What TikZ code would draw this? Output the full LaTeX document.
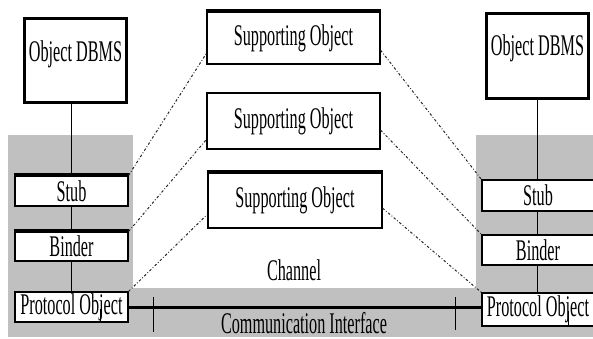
\documentclass[tikz,border=0pt]{standalone}
\usepackage{fontspec}
\setmainfont{Liberation Serif}[FakeStretch=0.54]
\usetikzlibrary{calc}
\definecolor{panelgray}{RGB}{192,192,192}

\tikzset{
    box/.style={draw, line width=1.2pt, fill=white, inner sep=0pt, font=\fontsize{30}{34}\selectfont},
    dbbox/.style={box, line width=3pt, minimum width=102pt, anchor=north west},
    caption/.style={inner sep=0pt, font=\fontsize{30}{34}\selectfont},
    link/.style={line width=1pt},
    trace/.style={line width=1pt, black!85, dash pattern=on 2.5pt off 2pt on 0.8pt off 2pt},
    topbar/.style={line width=4pt}
}

\begin{document}
\begin{tikzpicture}[x=1pt, y=-1pt, line cap=butt, line join=miter]
    \useasboundingbox (0,0) rectangle (593,339);
    \clip (0,0) rectangle (593,339);

    % grey panels behind both ends and the channel
    \fill[panelgray] (8,135) rectangle (133,337);
    \fill[panelgray] (476,135) rectangle (593,337);
    \fill[panelgray] (8,288) rectangle (593,337);

    % left end
    \node[dbbox, text height=43pt, text depth=41pt] (dbL) at (23,17) {Object DBMS};
    \node[box, minimum width=113pt, minimum height=30pt] (stubL) at (71.5,191) {Stub};
    \node[box, minimum width=113pt, minimum height=29pt] (bindL) at (71.5,246.5) {Binder};
    \node[box, minimum width=113pt, minimum height=30pt] (protoL) at (71.5,307) {Protocol Object};

    % right end
    \node[dbbox, text height=42pt, text depth=43pt] (dbR) at (485,12) {Object DBMS};
    \node[box, minimum width=112pt, minimum height=31pt] (stubR) at (538,195.5) {Stub};
    \node[box, minimum width=112pt, minimum height=30pt] (bindR) at (538,250) {Binder};
    \node[box, minimum width=112pt, minimum height=33pt] (protoR) at (538,309.5) {Protocol Object};

    % supporting objects in the channel
    \node[box, minimum width=173pt, minimum height=52pt] (so1) at (293.5,38) {Supporting Object};
    \node[box, minimum width=173pt, minimum height=56pt] (so2) at (293.5,121) {Supporting Object};
    \node[box, minimum width=174pt, minimum height=55pt] (so3) at (295,200.5) {Supporting Object};

    \node[caption] (chan) at (294,270) {Channel};
    \node[caption] (comm) at (304,323) {Communication Interface};

    % heavy top edges
    \draw[topbar] (stubL.north west) -- (stubL.north east);
    \draw[topbar] (bindL.north west) -- (bindL.north east);
    \draw[topbar] (so1.north west) -- (so1.north east);
    \draw[topbar] (so3.north west) -- (so3.north east);

    % stacks
    \draw[link] (stubL.north |- dbL.south) -- (stubL.north);
    \draw[link] (stubL.south) -- (bindL.north);
    \draw[link] (bindL.south) -- (protoL.north);
    \draw[link] (dbR.south) -- (dbR.south |- stubR.north);
    \draw[link] (dbR.south |- stubR.south) -- (dbR.south |- bindR.north);
    \draw[link] (dbR.south |- bindR.south) -- (dbR.south |- protoR.north);
    \draw[link] ($(protoL.south)+(28.5,0)$) -- ++(0,-14);
    \draw[link] ($(protoR.south)+(30,0)$) -- ++(0,-16);

    % communication interface
    \draw[line width=3pt] (protoL.east) -- (protoL.east -| protoR.west);
    \draw[link] (153,297) -- (153,332);
    \draw[link] (455,297) -- (455,330);

    % traces through the supporting objects
    \draw[trace] (stubL.north east) -- (so1.190);
    \draw[trace] (bindL.north east) -- (so2.192);
    \draw[trace] (protoL.north east) -- (so3.189);
    \draw[trace] (so1.352) -- (stubR.north west);
    \draw[trace] (so2.354) -- (bindR.north west);
    \draw[trace] (so3.355) -- (protoR.north west);
\end{tikzpicture}
\end{document}
